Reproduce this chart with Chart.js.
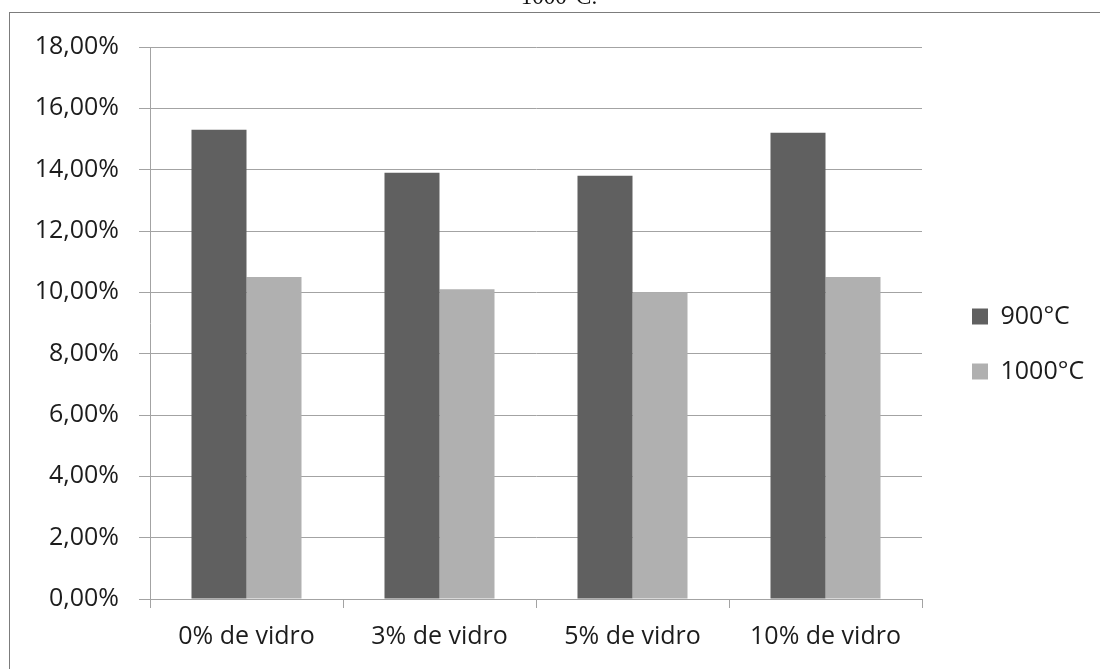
<!DOCTYPE html>
<html lang="pt">
<head>
<meta charset="utf-8">
<title>Absorção de água</title>
<script src="https://cdn.jsdelivr.net/npm/chart.js@4.4.1/dist/chart.umd.min.js"></script>
<style>
  html, body { margin: 0; padding: 0; background: #ffffff; }
  #wrap { position: relative; width: 1100px; height: 669px; overflow: hidden; }
  #frame { position: absolute; left: 9px; top: 12px; width: 1200px; height: 800px;
           border-left: 1px solid #7c7c7c; border-top: 1px solid #7c7c7c; }
  canvas { position: absolute; left: 0; top: 0; }
</style>
</head>
<body>
<div id="wrap">
  <div id="frame"></div>
  <canvas id="chart" width="1100" height="669"></canvas>
</div>
<script>
// Categories and series (percent values)
const categories = ['0% de vidro', '3% de vidro', '5% de vidro', '10% de vidro'];
const seriesNames = ['900°C', '1000°C'];
const values900 = [15.3, 13.9, 13.8, 15.2];
const values1000 = [10.5, 10.1, 10.0, 10.5];
const yTicks = [0, 2, 4, 6, 8, 10, 12, 14, 16, 18];
const captionText = '1000°C.';

const FONT = '"Open Sans", "DejaVu Sans", sans-serif';
const TEXT = '#1c1c1c';
const LINE = '#a3a3a3';

// Caption line of the surrounding page, partly above the frame
const captionPlugin = {
  id: 'caption',
  afterDraw(chart) {
    const ctx = chart.ctx;
    ctx.save();
    ctx.font = '23px "Liberation Serif", "DejaVu Serif", serif';
    ctx.fillStyle = '#111';
    ctx.textAlign = 'center';
    ctx.textBaseline = 'alphabetic';
    ctx.fillText(captionText, 559, 4);
    ctx.restore();
  }
};

// Fixed legend column width, with the items set in from its left edge
const legendColumn = {
  id: 'legendColumn',
  beforeLayout(chart) {
    const lg = chart.legend;
    if (lg && !lg.__fixedWidth) {
      const fit = lg.fit;
      lg.fit = function () { fit.call(this); this.width = 178; };
      lg.__fixedWidth = true;
    }
  },
  afterLayout(chart) {
    const lg = chart.legend;
    if (lg) {
      lg.left += 20; lg.right += 20;
      lg.top -= 14; lg.bottom -= 14;
    }
  }
};

new Chart(document.getElementById('chart'), {
  type: 'bar',
  data: {
    labels: categories,
    datasets: [
      { label: seriesNames[0], data: values900, backgroundColor: '#606060', borderWidth: 0,
        categoryPercentage: 0.57, barPercentage: 1.0 },
      { label: seriesNames[1], data: values1000, backgroundColor: '#b0b0b0', borderWidth: 0,
        categoryPercentage: 0.57, barPercentage: 1.0 }
    ]
  },
  options: {
    responsive: false,
    animation: false,
    layout: { padding: { top: 47, left: 0, right: 0, bottom: 0 } },
    plugins: {
      legend: {
        position: 'right',
        align: 'center',
        labels: {
          font: { family: FONT, size: 25 },
          color: TEXT,
          boxWidth: 16,
          boxHeight: 16,
          padding: 30
        }
      },
      tooltip: { enabled: false }
    },
    scales: {
      x: {
        grid: { offset: true, drawOnChartArea: false, color: LINE, tickLength: 9 },
        border: { color: LINE, width: 1 },
        ticks: { font: { family: FONT, size: 25 }, color: TEXT, padding: 14, maxRotation: 0 },
        afterFit(scale) { scale.height = 70; }
      },
      y: {
        min: yTicks[0],
        max: yTicks[yTicks.length - 1],
        afterBuildTicks(scale) { scale.ticks = yTicks.map(v => ({ value: v })); },
        grid: { color: LINE, tickLength: 11 },
        border: { color: LINE, width: 1 },
        ticks: {
          font: { family: FONT, size: 25 },
          color: TEXT,
          padding: 20,
          callback: v => v.toFixed(2).replace('.', ',') + '%'
        },
        afterFit(scale) { scale.width = 150; }
      }
    }
  },
  plugins: [captionPlugin, legendColumn]
});
</script>
</body>
</html>
